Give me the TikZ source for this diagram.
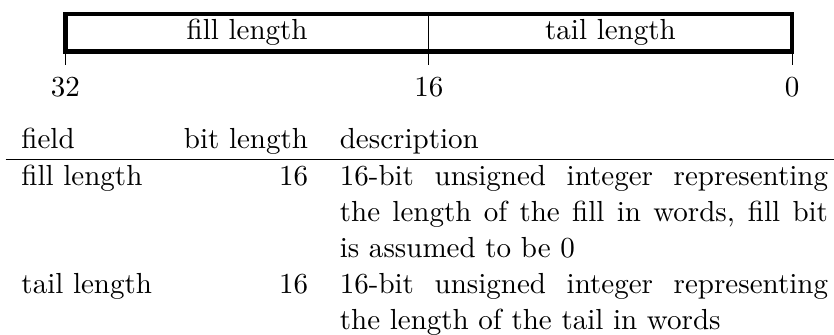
\documentclass[tikz,border=0pt]{standalone}
\usepackage{tikz}
\usepackage{array}
\usetikzlibrary{positioning}

\begin{document}
\begin{tikzpicture}[font=\fontsize{10.95}{13.6}\selectfont]
  \tikzset{
    field/.style={draw, thin, minimum width=137.1pt, minimum height=14.2pt, inner sep=0pt, outer sep=0pt},
    frame/.style={line width=1.6pt},
    tick/.style={thin},
    bitnum/.style={inner sep=0pt}
  }
  \useasboundingbox (0,0) rectangle (314.7pt,-126.4pt);

  \node[field, anchor=north west] (fillfld) at (24.7pt,-5.2pt) {fill length};
  \node[field, right=0pt of fillfld] (tailfld) {tail length};
  \draw[frame] (fillfld.north west) rectangle (tailfld.south east);

  \draw[tick] (fillfld.south west) -- ++(0,-5.1pt) coordinate (t32);
  \draw[tick] (fillfld.south east) -- ++(0,-5.1pt) coordinate (t16);
  \draw[tick] (tailfld.south east) -- ++(0,-5.1pt) coordinate (t0);

  \node[bitnum, below=4.6pt of t32] (n32) {32};
  \node[bitnum, below=4.6pt of t16] (n16) {16};
  \node[bitnum, below=4.6pt of t0] (n0) {0};

  \node[anchor=base west, inner sep=0pt] (fields) at (1.9pt,-55.85pt) {%
    \begin{tabular}[t]{lrp{184.2pt}}
      field & bit length & description\\ \hline
      fill length & 16 & 16-bit unsigned integer representing\linebreak the length of the fill in words, fill bit\linebreak is assumed to be 0\\
      tail length & 16 & 16-bit unsigned integer representing\linebreak the length of the tail in words
    \end{tabular}};
\end{tikzpicture}
\end{document}
